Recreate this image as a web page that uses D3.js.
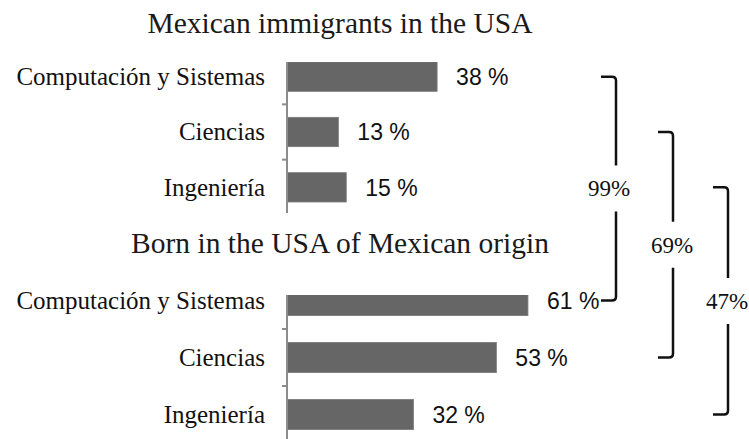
<!DOCTYPE html>
<html>
<head>
<meta charset="utf-8">
<script src="https://cdn.jsdelivr.net/npm/d3@7"></script>
<style>
  body { margin: 0; background: #fff; }
  svg { display: block; }
</style>
</head>
<body>
<svg id="chart" width="749" height="439"></svg>
<script>
const categories = ['Computación y Sistemas', 'Ciencias', 'Ingeniería']
const immigrants = [38, 13, 15]
const bornUSA = [61, 53, 32]
const titles = ['Mexican immigrants in the USA', 'Born in the USA of Mexican origin']
const bracketLabels = ['99%', '69%', '47%']

const svg = d3.select('#chart')
const x = d3.scaleLinear().domain([0, 100]).range([287, 682])

// two panels, each clipped like the original cut-out
let panels = [
  { title: titles[0], values: immigrants, range: [49, 215], clip: [62, 213], titleY: 33 },
  { title: titles[1], values: bornUSA, range: [272, 443], clip: [295, 439], titleY: 253 }
]

let defs = svg.append('defs')

panels.forEach((p, i) => {
  p.y = d3.scaleBand().domain(categories).range(p.range)
    .paddingInner(0.47).paddingOuter(0.235)

  defs.append('clipPath').attr('id', 'clip' + i)
    .append('rect')
    .attr('x', 0).attr('y', p.clip[0])
    .attr('width', 749).attr('height', p.clip[1] - p.clip[0])

  svg.append('text')
    .attr('x', 340).attr('y', p.titleY)
    .attr('text-anchor', 'middle')
    .style('font-family', '"Liberation Serif", serif')
    .style('font-size', '29.5px')
    .attr('fill', '#1a1a1a')
    .text(p.title)

  let g = svg.append('g').attr('clip-path', `url(#clip${i})`)

  g.selectAll('rect.bar')
    .data(p.values)
    .enter().append('rect')
      .attr('class', 'bar')
      .attr('x', x(0))
      .attr('y', (d, j) => p.y(categories[j]))
      .attr('width', d => x(d) - x(0))
      .attr('height', p.y.bandwidth())
      .attr('fill', '#666666')
      .attr('stroke', '#7a7a7a')
      .attr('stroke-width', 0.8)

  // category axis with ticks between bands
  let step = p.y.step()
  let bounds = d3.range(categories.length + 1).map(k => p.range[0] + k * step)
  g.append('line')
    .attr('x1', x(0)).attr('x2', x(0))
    .attr('y1', p.range[0]).attr('y2', p.range[1])
    .attr('stroke', '#8c8c8c').attr('stroke-width', 2)
  g.selectAll('line.tick')
    .data(bounds)
    .enter().append('line')
      .attr('class', 'tick')
      .attr('x1', x(0) - 5).attr('x2', x(0))
      .attr('y1', d => d).attr('y2', d => d)
      .attr('stroke', '#8c8c8c').attr('stroke-width', 2)

  svg.selectAll(null)
    .data(categories)
    .enter().append('text')
      .attr('x', 265)
      .attr('y', d => p.y(d) + p.y.bandwidth() / 2)
      .attr('dy', '0.33em')
      .attr('text-anchor', 'end')
      .style('font-family', '"Liberation Serif", serif')
      .style('font-size', '25px')
      .attr('fill', '#111')
      .text(d => d)

  svg.selectAll(null)
    .data(p.values)
    .enter().append('text')
      .attr('x', d => x(d) + 19)
      .attr('y', (d, j) => p.y(categories[j]) + p.y.bandwidth() / 2)
      .attr('dy', '0.36em')
      .style('font-family', '"Liberation Sans", sans-serif')
      .style('font-size', '23px')
      .attr('fill', '#111')
      .text(d => d + ' %')
})

// brackets joining the same category in both panels
let bx = [616, 673, 728]
bracketLabels.forEach((lab, i) => {
  let cat = categories[i]
  let y1 = panels[0].y(cat) + panels[0].y.bandwidth() / 2
  let y2 = panels[1].y(cat) + panels[1].y.bandwidth() / 2
  let xb = bx[i], mid = (y1 + y2) / 2, gap = 23, r = 4
  let path = `M${xb - 15},${y1} L${xb - r},${y1} Q${xb},${y1} ${xb},${y1 + r} L${xb},${mid - gap}` +
    ` M${xb},${mid + gap} L${xb},${y2 - r} Q${xb},${y2} ${xb - r},${y2} L${xb - 15},${y2}`
  svg.append('path')
    .attr('d', path)
    .attr('fill', 'none')
    .attr('stroke', '#111')
    .attr('stroke-width', 2.5)
  svg.append('text')
    .attr('x', xb - (i === 0 ? 7 : 1)).attr('y', mid)
    .attr('dy', '0.34em')
    .attr('text-anchor', 'middle')
    .style('font-family', '"Liberation Serif", serif')
    .style('font-size', '23px')
    .attr('fill', '#111')
    .text(lab)
})
</script>
</body>
</html>
